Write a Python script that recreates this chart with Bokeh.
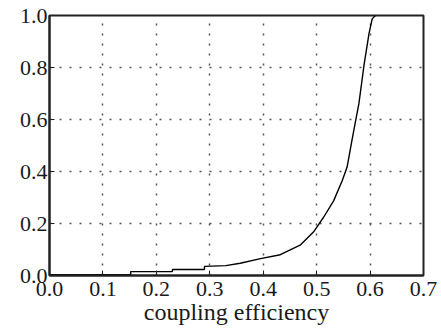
from bokeh.plotting import figure
from bokeh.embed import file_html
from bokeh.resources import INLINE
from bokeh.models import FixedTicker, PrintfTickFormatter, Range1d

# data
eff = [0.0, 0.152, 0.152, 0.23, 0.23, 0.29, 0.29, 0.33, 0.357, 0.395, 0.432, 0.47,
       0.494, 0.513, 0.532, 0.548, 0.557, 0.566, 0.573, 0.579, 0.589, 0.598, 0.604, 0.61]
prob = [0.003, 0.003, 0.015, 0.015, 0.023, 0.023, 0.035, 0.038, 0.047, 0.065, 0.08, 0.118,
        0.167, 0.224, 0.288, 0.365, 0.417, 0.519, 0.596, 0.66, 0.814, 0.93, 0.987, 1.0]
xticks = [0.0, 0.1, 0.2, 0.3, 0.4, 0.5, 0.6, 0.7]
yticks = [0.0, 0.2, 0.4, 0.6, 0.8, 1.0]
xlabel = "coupling efficiency"

p = figure(width=441, height=329, output_backend="svg", toolbar_location=None,
           x_range=Range1d(0, 0.7), y_range=Range1d(0, 1.0),
           min_border_left=49, min_border_right=18, min_border_top=15, min_border_bottom=54)

p.line(eff, prob, line_color="black", line_width=1.4)

font = "Liberation Serif"
for ax in (p.xaxis[0], p.yaxis[0]):
    ax.major_label_text_font = font
    ax.major_label_text_font_size = "22px"
    ax.major_label_text_color = "#1a1a1a"
    ax.axis_line_width = 2
    ax.axis_line_color = "#222222"
    ax.major_tick_in = 5
    ax.major_tick_out = 0
    ax.minor_tick_in = 0
    ax.minor_tick_out = 0
    ax.major_tick_line_color = "#222222"
    ax.major_label_standoff = 2
    ax.formatter = PrintfTickFormatter(format="%.1f")

p.xaxis[0].major_label_standoff = 6
p.xaxis[0].ticker = FixedTicker(ticks=xticks)
p.yaxis[0].ticker = FixedTicker(ticks=yticks)
p.xaxis[0].axis_label = xlabel
p.xaxis[0].axis_label_text_font = font
p.xaxis[0].axis_label_text_font_style = "normal"
p.xaxis[0].axis_label_text_font_size = "24px"
p.xaxis[0].axis_label_text_color = "#1a1a1a"
p.xaxis[0].axis_label_standoff = 0

p.xgrid.ticker = FixedTicker(ticks=[0.1, 0.2, 0.3, 0.4, 0.5, 0.6])
p.ygrid.ticker = FixedTicker(ticks=[0.2, 0.4, 0.6, 0.8])
for g in (p.xgrid[0], p.ygrid[0]):
    g.grid_line_color = "#555555"
    g.grid_line_dash = "2 8"
    g.grid_line_width = 1.5

p.outline_line_color = "#222222"
p.outline_line_width = 2
p.outline_line_alpha = 1
p.background_fill_color = "white"
p.border_fill_color = "white"

open("out.html", "w").write(file_html(p, INLINE))
